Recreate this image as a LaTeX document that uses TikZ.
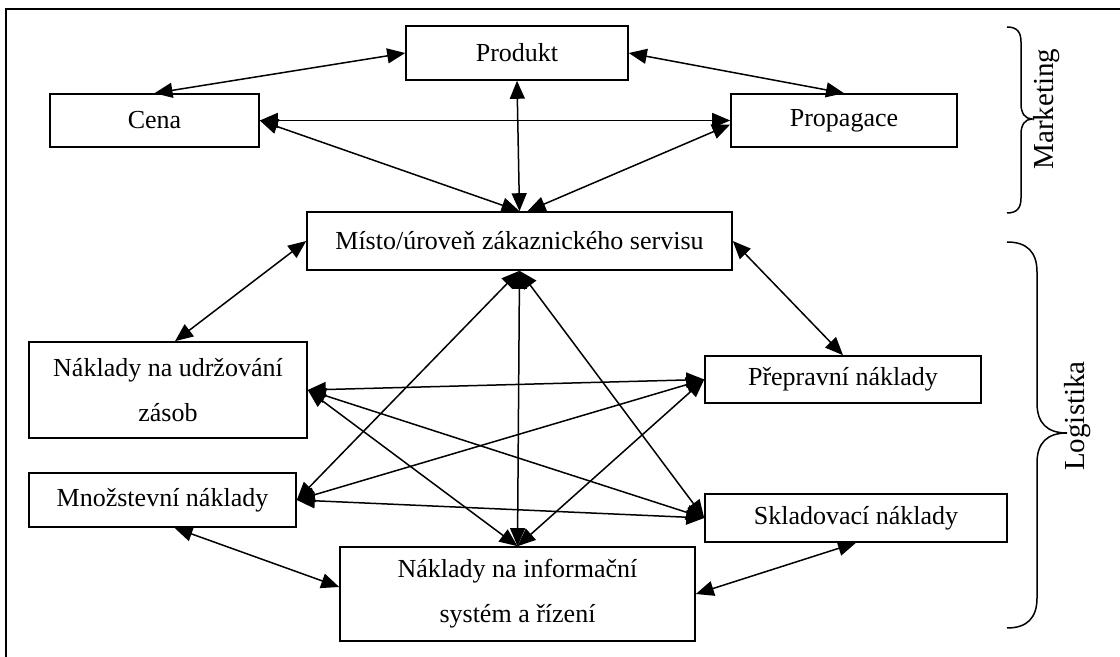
\documentclass[tikz,border=0pt]{standalone}
\usepackage{fontspec}
\setmainfont{Liberation Serif}
\usetikzlibrary{arrows.meta}

\begin{document}
\begin{tikzpicture}[x=0.5pt, y=-0.5pt,
        box/.style={draw, line width=0.8pt, inner sep=0pt, align=center,
            font=\fontsize{13}{22.5}\selectfont},
        link/.style={{Triangle[length=9pt,width=7.5pt]}-{Triangle[length=9pt,width=7.5pt]},
            line width=0.75pt},
        grouptext/.style={rotate=90, font=\fontsize{14.5}{17}\selectfont}]
        \useasboundingbox (0,0) rectangle (1120,657);

        % Draw the frame
        \draw[line width=0.85pt] (6,657) -- (6,9) -- (1120,9);

        % Marketing boxes
        \node[box, minimum width=111pt, minimum height=27pt] (produkt) at (517,53) {Produkt};
        \node[box, minimum width=104.5pt, minimum height=26.5pt] (cena) at (154.5,120.5) {Cena};
        \node[box, minimum width=113pt, minimum height=26.5pt] (propagace) at (844,120.5) {Propagace};
        \node[box, minimum width=212.5pt, minimum height=29pt] (misto) at (519.5,241) {Místo/úroveň zákaznického servisu};

        % Logistics boxes
        \node[box, minimum width=139pt, minimum height=48pt] (udrzovani) at (168,390) {Náklady na udržování\\zásob};
        \node[box, minimum width=133.5pt, minimum height=27pt] (mnozstevni) at (162.5,500) {Množstevní náklady};
        \node[box, minimum width=177.5pt, minimum height=47pt] (info) at (517.5,594) {Náklady na informační\\systém a řízení};
        \node[box, minimum width=138pt, minimum height=23.5pt] (prepravni) at (843,379.5) {Přepravní náklady};
        \node[box, minimum width=151pt, minimum height=24pt] (skladovaci) at (856,518) {Skladovací náklady};

        % Draw arrows between marketing boxes
        \draw[link] (produkt.west) -- (cena.north);
        \draw[link] (produkt.east) -- (propagace.north);
        \draw[link] (cena.east) -- (propagace.west);
        \draw[link] (produkt.south) -- (misto.north);
        \draw[link] (cena.east) -- (misto.north);
        \draw[link] ([yshift=-2pt]propagace.west) -- ([xshift=4pt]misto.north);

        % Draw arrows from the service level
        \draw[link] (misto.west) -- ([xshift=3.5pt]udrzovani.north);
        \draw[link] (misto.east) -- (prepravni.north);
        \draw[link] (misto.south) -- (mnozstevni.east);
        \draw[link] (misto.south) -- (info.north);
        \draw[link] (misto.south) -- (skladovaci.west);

        % Draw arrows between cost boxes
        \draw[link] (udrzovani.east) -- (prepravni.west);
        \draw[link] (udrzovani.east) -- (skladovaci.west);
        \draw[link] (udrzovani.east) -- (info.north);
        \draw[link] (mnozstevni.east) -- (prepravni.west);
        \draw[link] (mnozstevni.east) -- (skladovaci.west);
        \draw[link] (info.north) -- (prepravni.west);
        \draw[link] ([xshift=6pt]mnozstevni.south) -- ([yshift=3.5pt]info.west);
        \draw[link] (info.east) -- (skladovaci.south);

        % Draw the braces
        \draw[line width=0.75pt] (1007,27) .. controls (1017,27) and (1021,32) .. (1021,42)
            -- (1021,104) .. controls (1021,113) and (1025,119) .. (1032,119)
            .. controls (1025,119) and (1021,125) .. (1021,134)
            -- (1021,198) .. controls (1021,208) and (1017,213) .. (1007,213);
        \draw[line width=0.75pt] (1007,242) .. controls (1027,242) and (1037,252) .. (1037,272)
            -- (1037,403) .. controls (1037,423) and (1047,433) .. (1067,433)
            .. controls (1047,433) and (1037,443) .. (1037,463)
            -- (1037,598) .. controls (1037,618) and (1027,628) .. (1007,628);

        % Label the groups
        \node[grouptext] (marketing) at (1047,109) {Marketing};
        \node[grouptext] (logistika) at (1078,416) {Logistika};

\end{tikzpicture}
\end{document}
